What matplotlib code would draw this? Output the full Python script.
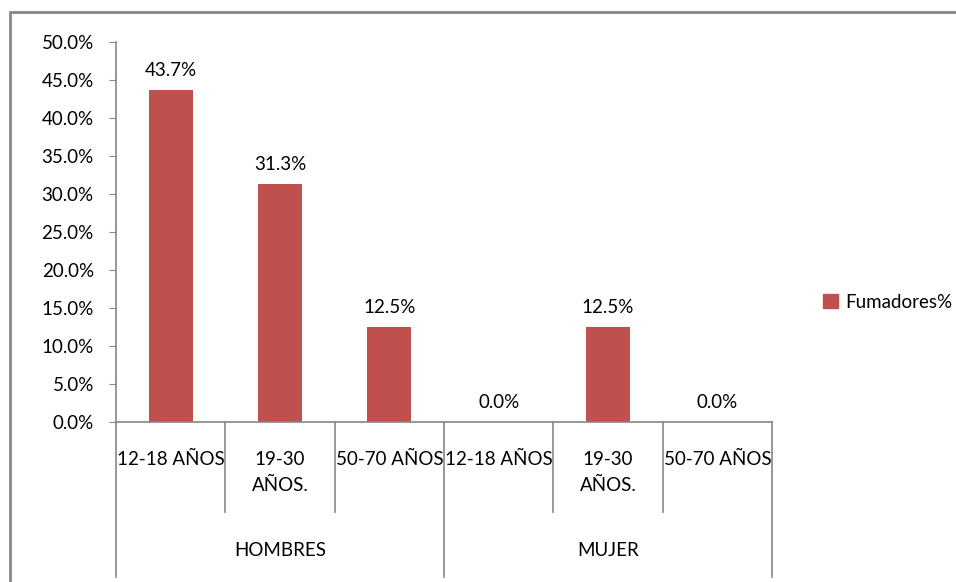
import matplotlib.pyplot as plt
from matplotlib.patches import Rectangle, Patch
from matplotlib.transforms import blended_transform_factory

plt.rcParams['font.family'] = ['Lato', 'DejaVu Sans']

groups = ['HOMBRES', 'MUJER']
ages = ['12-18 AÑOS', '19-30\nAÑOS.', '50-70 AÑOS']
fumadores = [0.437, 0.313, 0.125, 0.0, 0.125, 0.0]
series_name = 'Fumadores%'

bar_color = '#C0504D'
axis_color = '#868686'
fs = 13.5

W, H = 956, 582
fig = plt.figure(figsize=(W / 100, H / 100), dpi=100)
ax = fig.add_axes([116 / W, 160 / H, (772 - 116) / W, 380 / H])

n = len(fumadores)
x = list(range(n))
ax.bar(x, fumadores, width=0.4, color=bar_color)
for xi, v in zip(x, fumadores):
    ax.annotate(f'{v * 100:.1f}%', (xi, v), xytext=(0, 8), textcoords='offset points',
                ha='center', va='bottom', fontsize=fs)

ax.set_xlim(-0.5, n - 0.5)
ax.set_ylim(0, 0.5)
ax.set_yticks([i * 0.05 for i in range(11)])
ax.set_yticklabels([f'{i * 5:.1f}%' for i in range(11)], fontsize=fs)
ax.tick_params(axis='y', direction='out', length=5, color=axis_color, pad=11)
ax.set_xticks([])
for s in ['top', 'right']:
    ax.spines[s].set_visible(False)
for s in ['left', 'bottom']:
    ax.spines[s].set_color(axis_color)
    ax.spines[s].set_linewidth(1.2)

# multi-level category axis
tr = blended_transform_factory(ax.transData, ax.transAxes)
y_inner = -(512 - 422) / 380
y_outer = -(577 - 422) / 380
for i in range(n + 1):
    xd = i - 0.5
    bottom = y_outer if i % 3 == 0 else y_inner
    ax.plot([xd, xd], [0, bottom], transform=tr, color=axis_color, lw=1.2, clip_on=False)
for i in range(n):
    lab = ages[i % 3]
    ax.text(i, -(451 - 422) / 380, lab, transform=tr, ha='center', va='top',
            fontsize=fs, linespacing=1.65)
for g, name in enumerate(groups):
    ax.text(g * 3 + 1, -(550 - 422) / 380, name, transform=tr, ha='center',
            va='center', fontsize=fs)

# legend
fig.legend(handles=[Patch(color=bar_color, label=series_name)], loc='center left',
           bbox_to_anchor=(806 / W, 1 - 302 / H), frameon=False, fontsize=fs,
           handlelength=0.8, handleheight=0.8, handletextpad=0.4)

# outer chart border
fig.add_artist(Rectangle((10 / W, -0.1), 1.2, 1.1 - 12 / H, transform=fig.transFigure,
                         fill=False, edgecolor=axis_color, lw=2))

fig.savefig('out.png', dpi=100)
